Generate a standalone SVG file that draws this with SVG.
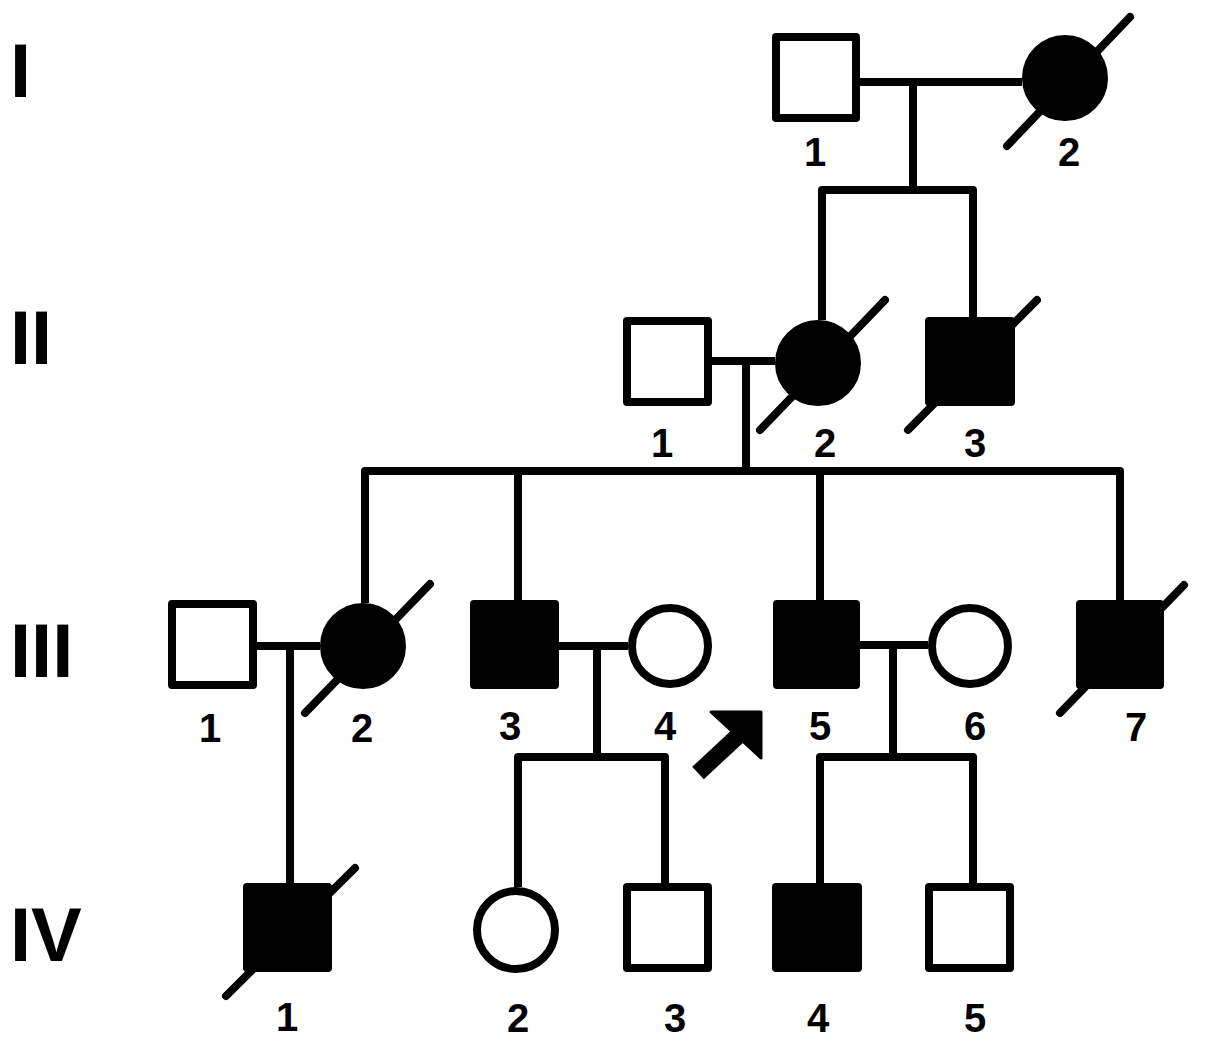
<svg xmlns="http://www.w3.org/2000/svg" width="1205" height="1048" viewBox="0 0 1205 1048">
<style>
.sq{fill:#fff;stroke:#000;stroke-width:8;stroke-linejoin:round}
.ci{fill:#fff;stroke:#000;stroke-width:8}
.sq.aff,.ci.aff{fill:#000}
.sl{stroke:#000;stroke-width:8;stroke-linecap:round}
.ln{fill:none;stroke:#000;stroke-width:8;stroke-linejoin:round}
.num{font-family:"Liberation Sans",Arial,sans-serif;font-weight:bold;font-size:40px;text-anchor:middle;fill:#000}
.gen{font-family:"Liberation Sans",Arial,sans-serif;font-weight:bold;font-size:76px;fill:#000}
</style>
<rect width="1205" height="1048" fill="#fff"/>
<g id="generations">
<text class="gen" x="10" y="97">I</text>
<text class="gen" x="10" y="364">II</text>
<text class="gen" x="10" y="677">III</text>
<text class="gen" x="10" y="961">IV</text>
</g>
<g id="connectors">
<path class="ln" d="M860,82 H1022 M913,82 V190 M822,320 V190 H973 V317"/>
<path class="ln" d="M712,361 H775 M746,361 V471 M365,603 V471 H1120 V600 M518,471 V600 M820,471 V600"/>
<path class="ln" d="M257,646 H320 M290,646 V883"/>
<path class="ln" d="M559,646 H628 M597,646 V757 M518,887 V757 H665 V883"/>
<path class="ln" d="M860,645 H928 M893,645 V757 M820,883 V757 H973 V883"/>
</g>
<g id="I-1"><rect class="sq" x="776" y="37" width="80" height="81"/><text class="num" x="815" y="166">1</text></g>
<g id="I-2"><line class="sl" x1="1007" y1="146" x2="1130" y2="17"/><circle class="ci aff" cx="1065" cy="78" r="39"/><text class="num" x="1069" y="166">2</text></g>
<g id="II-1"><rect class="sq" x="627" y="321" width="81" height="81"/><text class="num" x="662" y="457">1</text></g>
<g id="II-2"><line class="sl" x1="760" y1="430" x2="885" y2="300"/><circle class="ci aff" cx="818" cy="363" r="39"/><text class="num" x="825" y="457">2</text></g>
<g id="II-3"><line class="sl" x1="908" y1="430" x2="1037" y2="300"/><rect class="sq aff" x="929" y="321" width="82" height="81"/><text class="num" x="975" y="457">3</text></g>
<g id="III-1"><rect class="sq" x="172" y="604" width="81" height="81"/><text class="num" x="210" y="742">1</text></g>
<g id="III-2"><line class="sl" x1="305" y1="713" x2="430" y2="584"/><circle class="ci aff" cx="363" cy="646" r="39"/><text class="num" x="362" y="742">2</text></g>
<g id="III-3"><rect class="sq aff" x="474" y="604" width="81" height="81"/><text class="num" x="510" y="740">3</text></g>
<g id="III-4"><circle class="ci" cx="670" cy="646" r="38"/><text class="num" x="665" y="740">4</text></g>
<g id="III-5"><rect class="sq aff" x="777" y="604" width="79" height="81"/><text class="num" x="820" y="740">5</text></g>
<g id="III-6"><circle class="ci" cx="970" cy="646" r="38"/><text class="num" x="975" y="740">6</text></g>
<g id="III-7"><line class="sl" x1="1060" y1="713" x2="1184" y2="585"/><rect class="sq aff" x="1080" y="604" width="80" height="81"/><text class="num" x="1136" y="741">7</text></g>
<g id="proband-arrow">
<polygon points="711,712 761,712 761,758" fill="#000" stroke="#000" stroke-width="3" stroke-linejoin="round"/>
<line x1="740" y1="734" x2="698" y2="773" stroke="#000" stroke-width="17"/>
</g>
<g id="IV-1"><line class="sl" x1="226" y1="996" x2="355" y2="868"/><rect class="sq aff" x="247" y="887" width="81" height="81"/><text class="num" x="287" y="1031">1</text></g>
<g id="IV-2"><circle class="ci" cx="516" cy="930" r="39"/><text class="num" x="518" y="1032">2</text></g>
<g id="IV-3"><rect class="sq" x="627" y="887" width="81" height="81"/><text class="num" x="675" y="1032">3</text></g>
<g id="IV-4"><rect class="sq aff" x="776" y="887" width="82" height="81"/><text class="num" x="818" y="1032">4</text></g>
<g id="IV-5"><rect class="sq" x="929" y="887" width="81" height="81"/><text class="num" x="975" y="1032">5</text></g>
</svg>
